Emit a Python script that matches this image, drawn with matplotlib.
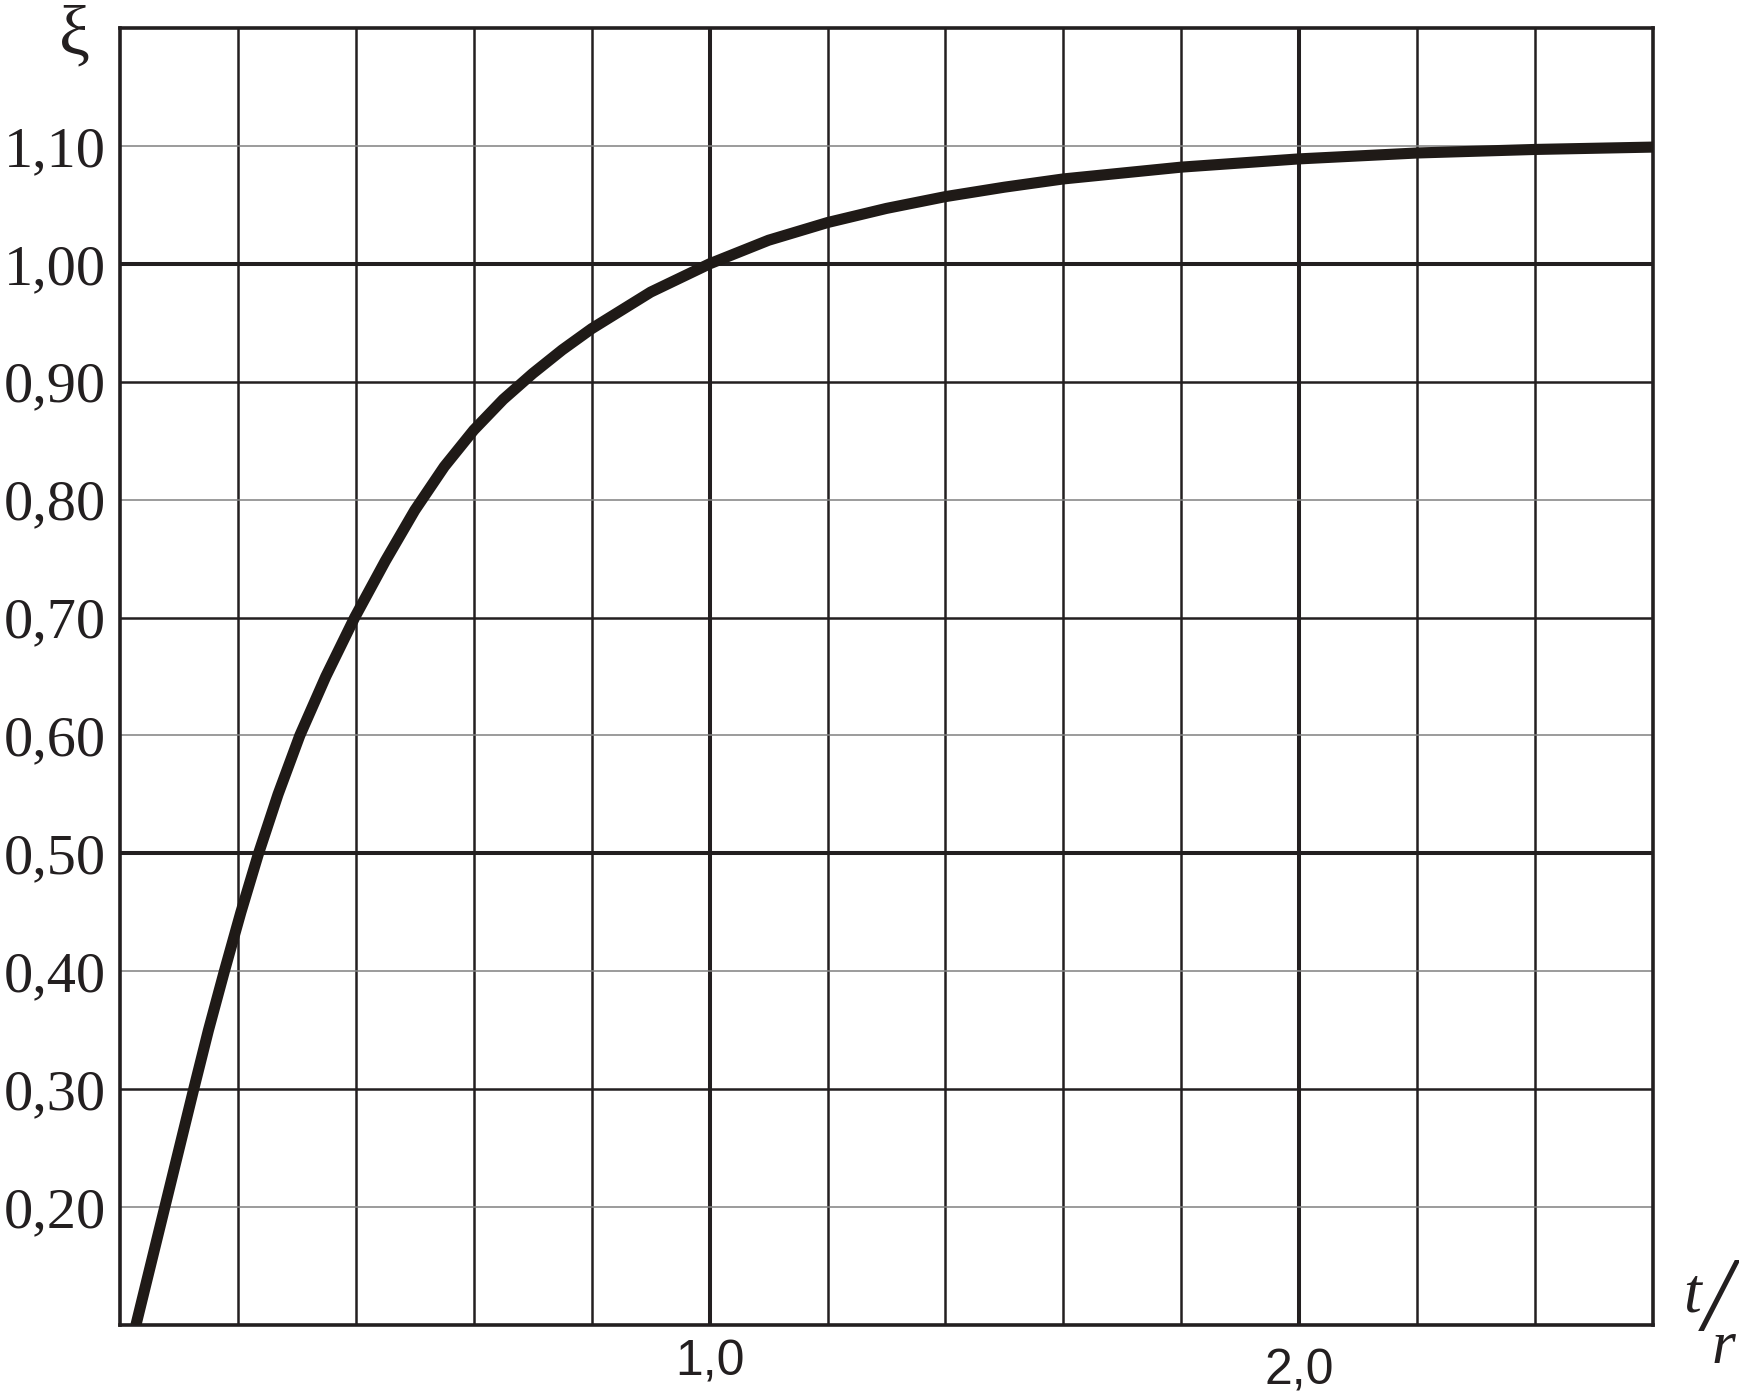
import matplotlib
matplotlib.use("Agg")
from matplotlib import pyplot as plt

# curve: t/r -> xi
t_r = [0.027, 0.076, 0.125, 0.150, 0.177, 0.205, 0.235, 0.268, 0.305, 0.349,
       0.398, 0.450, 0.500, 0.550, 0.600, 0.650, 0.700, 0.750, 0.800, 0.900,
       1.000, 1.100, 1.200, 1.300, 1.400, 1.500, 1.600, 1.800, 2.000, 2.200,
       2.400, 2.600]
xi = [0.100, 0.200, 0.300, 0.350, 0.400, 0.450, 0.500, 0.550, 0.600, 0.650,
      0.700, 0.748, 0.791, 0.828, 0.859, 0.885, 0.907, 0.927, 0.945, 0.976,
      1.000, 1.020, 1.035, 1.047, 1.057, 1.065, 1.072, 1.082, 1.089, 1.094,
      1.097, 1.099]

x_grid = [0.2, 0.4, 0.6, 0.8, 1.0, 1.2, 1.4, 1.6, 1.8, 2.0, 2.2, 2.4]
x_bold = [1.0, 2.0]
y_grid_dark = [0.3, 0.7, 0.9]
y_grid_gray = [0.2, 0.4, 0.6, 0.8, 1.1]
y_bold = [0.5, 1.0]

y_ticks = [0.2, 0.3, 0.4, 0.5, 0.6, 0.7, 0.8, 0.9, 1.0, 1.1]
y_labels = ["0,20", "0,30", "0,40", "0,50", "0,60", "0,70", "0,80", "0,90", "1,00", "1,10"]
x_ticks = [1.0, 2.0]
x_labels = ["1,0", "2,0"]
x_label_y = [-0.029, -0.036]

ink = "#231f20"

fig = plt.figure(figsize=(17.39, 13.94), dpi=100)
ax = fig.add_axes([120 / 1739, 1 - 1325 / 1394, 1533 / 1739, 1297 / 1394])
ax.set_xlim(0, 2.6)
ax.set_ylim(0.1, 1.2)

for x in x_grid:
    lw = 2.9 if x in x_bold else 1.8
    ax.axvline(x, color=ink, lw=lw, zorder=1)
for y in y_grid_gray:
    ax.axhline(y, color="#808080", lw=1.1, zorder=1)
for y in y_grid_dark:
    ax.axhline(y, color=ink, lw=1.8, zorder=1)
for y in y_bold:
    ax.axhline(y, color=ink, lw=2.9, zorder=1)

ax.plot(t_r, xi, color="#1f1a17", lw=8, solid_joinstyle="round",
        solid_capstyle="butt", zorder=3)

for s in ax.spines.values():
    s.set_linewidth(2.6)
    s.set_color(ink)

ax.set_yticks(y_ticks)
ax.set_yticklabels(y_labels, family="Liberation Serif", fontsize=42, color=ink)
ax.tick_params(axis="y", length=0, pad=10)
ax.set_xticks([])
for xv, lab, yy in zip(x_ticks, x_labels, x_label_y):
    ax.text(xv, yy, lab, transform=ax.get_xaxis_transform(), ha="center",
            va="center", family="Liberation Sans", fontsize=36, color=ink)

# axis names
fig.text(0.0426, 0.9740, "ξ", family="Liberation Serif", fontsize=50,
         ha="center", va="center", color=ink)
fig.text(0.9730, 0.0700, "t", family="Liberation Serif", style="italic",
         fontsize=46, ha="center", va="center", color=ink)
fig.text(0.9875, 0.0640, "/", family="Liberation Serif", style="italic",
         fontsize=76, ha="center", va="center", color=ink)
fig.text(0.9912, 0.0330, "r", family="Liberation Serif", style="italic",
         fontsize=44, ha="center", va="center", color=ink)

fig.savefig("out.png", dpi=100)
